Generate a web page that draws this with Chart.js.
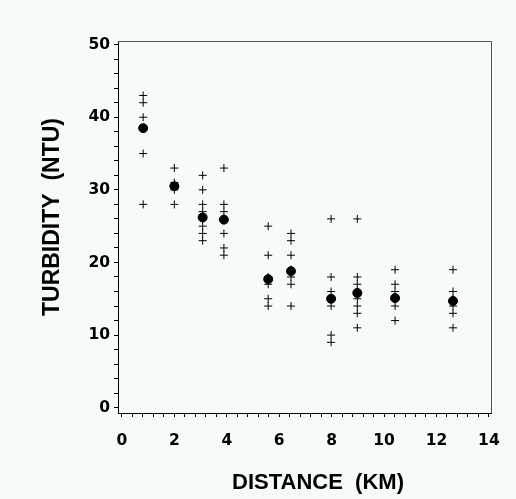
<!DOCTYPE html>
<html>
<head>
<meta charset="utf-8">
<script src="https://cdn.jsdelivr.net/npm/chart.js@4/dist/chart.umd.min.js"></script>
<style>
  html, body { margin: 0; padding: 0; background: #f7fbf8; }
  canvas { display: block; }
</style>
</head>
<body>
<canvas id="turbidityChart" width="516" height="499"></canvas>
<script>
'use strict'

// 観測地点 (km) と濁度
const siteKm = [0.81, 2.0, 3.08, 3.89, 5.58, 6.45, 7.98, 8.98, 10.42, 12.63];
const meanNtu = [38.5, 30.5, 26.2, 25.9, 17.7, 18.8, 15.0, 15.8, 15.1, 14.7];
const obsNtu = [
  [43, 42, 40, 35, 28],
  [33, 31, 30, 28],
  [32, 30, 28, 27, 26, 25, 24, 23],
  [33, 28, 27, 26, 24, 22, 21],
  [25, 21, 18, 17, 15, 14],
  [24, 23, 21, 19, 18, 17, 14],
  [26, 18, 16, 15, 14, 10, 9],
  [26, 18, 17, 16, 15, 14, 13, 11],
  [19, 17, 16, 15, 14, 12],
  [19, 16, 15, 14, 13, 11],
];
const xTickLabels = [0, 2, 4, 6, 8, 10, 12, 14];
const yTickLabels = [0, 10, 20, 30, 40, 50];
const xTitle = 'DISTANCE  (KM)';
const yTitle = 'TURBIDITY  (NTU)';

const obsPoints = [];
siteKm.forEach((km, i) => {
  obsNtu[i].forEach(v => obsPoints.push({x: km, y: v}));
});
const meanPoints = siteKm.map((km, i) => ({x: km, y: meanNtu[i]}));

// 背景と枠
const framePlugin = {
  id: 'frame',
  beforeDraw(chart) {
    const c = chart.ctx;
    c.save();
    c.fillStyle = '#f7fbf8';
    c.fillRect(0, 0, chart.width, chart.height);
    c.restore();
  },
  afterDraw(chart) {
    const c = chart.ctx;
    const a = chart.chartArea;
    c.save();
    c.strokeStyle = '#555';
    c.lineWidth = 1;
    c.beginPath();
    c.moveTo(a.left, a.top + 0.5);
    c.lineTo(a.right + 0.5, a.top + 0.5);
    c.lineTo(a.right + 0.5, a.bottom);
    c.stroke();

    c.fillStyle = '#000';
    c.textAlign = 'center';
    c.textBaseline = 'middle';
    c.font = 'bold 22px "Liberation Sans", Arial, sans-serif';
    c.fillText(xTitle, a.left + 200, a.bottom + 70);
    c.translate(a.left - 65, (a.top + a.bottom) / 2 - 10);
    c.rotate(-Math.PI / 2);
    c.font = 'bold 23px "Liberation Sans", Arial, sans-serif';
    c.fillText(yTitle, 0, 0);
    c.restore();
  }
};

const tickFont = {family: '"DejaVu Sans", sans-serif', size: 15.5, weight: 'bold'};

const ctx = document.getElementById('turbidityChart');
const myChart = new Chart(ctx, {
  type: 'scatter',
  data: {
    datasets: [
      {
        data: meanPoints,
        pointStyle: 'circle',
        pointRadius: 4.5,
        backgroundColor: '#000',
        borderColor: '#000',
        borderWidth: 1,
      },
      {
        data: obsPoints,
        pointStyle: 'cross',
        pointRadius: 4,
        borderColor: '#000',
        backgroundColor: '#000',
        borderWidth: 1,
      },
    ]
  },
  options: {
    responsive: false,
    animation: false,
    layout: {
      padding: {top: 41, right: 25, left: 0, bottom: 0}
    },
    scales: {
      x: {
        type: 'linear',
        min: -0.15,
        max: 14.08,
        afterFit(scale) { scale.height = 86; },
        afterBuildTicks(scale) {
          const t = [];
          for (let i = 0; i <= 35; i++) t.push({value: Math.round(i * 4) / 10});
          scale.ticks = t;
        },
        grid: {
          drawOnChartArea: false,
          tickLength: 4,
          tickColor: '#000',
        },
        border: {color: '#000'},
        ticks: {
          color: '#000',
          font: tickFont,
          padding: 15,
          maxRotation: 0,
          autoSkip: false,
          callback: function(value) {
            const v = Math.round(value * 10) / 10;
            return xTickLabels.includes(v) ? String(v) : '';
          }
        }
      },
      y: {
        min: -0.73,
        max: 50.5,
        afterFit(scale) { scale.width = 118; },
        afterBuildTicks(scale) {
          const t = [];
          for (let v = 0; v <= 50; v += 2) t.push({value: v});
          scale.ticks = t;
        },
        grid: {
          drawOnChartArea: false,
          tickLength: 4,
          tickColor: '#000',
        },
        border: {color: '#000'},
        ticks: {
          color: '#000',
          font: tickFont,
          padding: 4,
          autoSkip: false,
          callback: function(value) {
            return yTickLabels.includes(value) ? String(value) : '';
          }
        }
      }
    },
    plugins: {
      legend: {display: false},
      tooltip: {enabled: false},
    }
  },
  plugins: [framePlugin]
});
</script>
</body>
</html>
